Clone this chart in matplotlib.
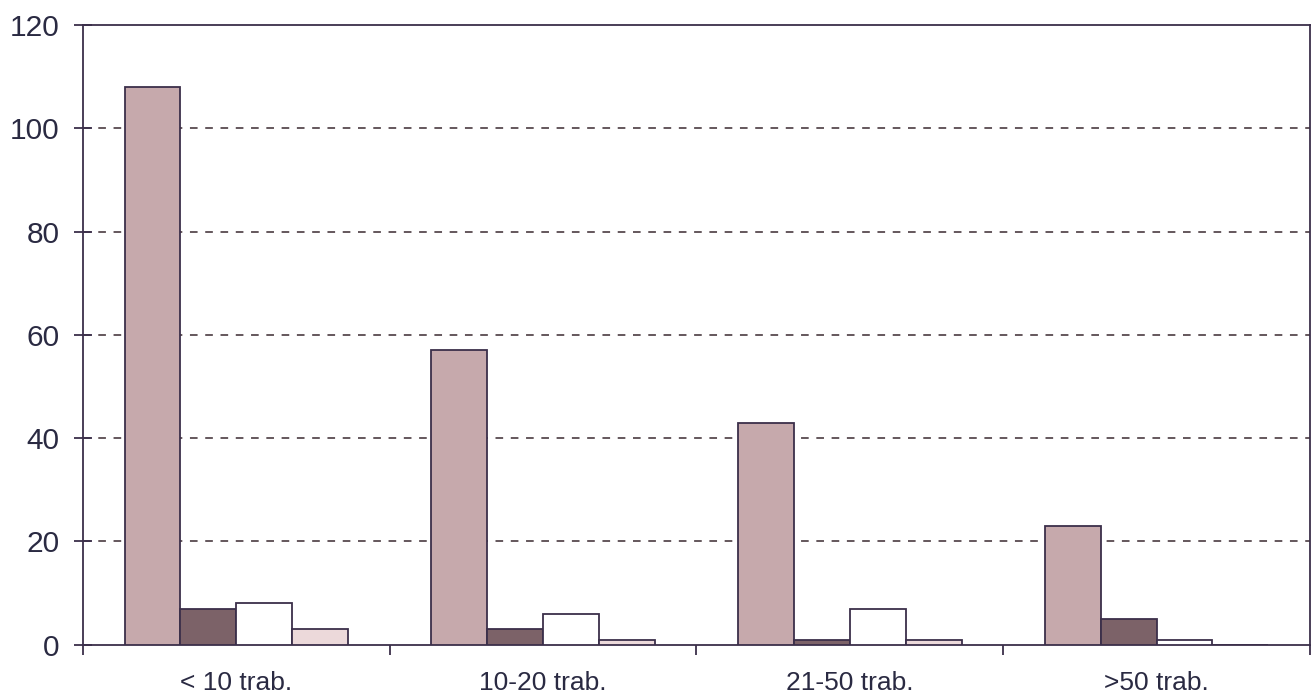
import matplotlib.pyplot as plt
import numpy as np

# Data ===========================================
categories = ['< 10 trab.', '10-20 trab.', '21-50 trab.', '>50 trab.']
serie_a = [108, 57, 43, 23]
serie_b = [7, 3, 1, 5]
serie_c = [8, 6, 7, 1]
serie_d = [3, 1, 1, 0]
yticks = [0, 20, 40, 60, 80, 100, 120]

colors = ['#c6a9ac', '#7c6268', '#ffffff', '#ecd9da']
edge = '#3b2f4a'
txt = '#2a2a42'

plt.rcParams['font.family'] = ['Liberation Sans', 'DejaVu Sans']

fig = plt.figure(figsize=(13.14, 7), dpi=100)
ax = fig.add_axes([0.063, 0.079, 0.934, 0.885])

x = np.arange(len(categories))
w = 0.182
for i, (vals, col) in enumerate(zip([serie_a, serie_b, serie_c, serie_d], colors)):
    ax.bar(x + (i - 1.5) * w, vals, width=w, color=col, edgecolor=edge,
           linewidth=1.3, zorder=3)

ax.set_xlim(-0.5, len(categories) - 0.5)
ax.set_ylim(0, 120)
ax.set_yticks(yticks)
ax.set_yticklabels([str(t) for t in yticks], fontsize=21.5, color=txt)

# category labels between boundary ticks
ax.set_xticks(np.arange(len(categories) + 1) - 0.5)
ax.set_xticklabels([])
ax.set_xticks(x, minor=True)
ax.set_xticklabels(categories, minor=True, fontsize=19, color=txt)
ax.tick_params(axis='x', which='minor', length=0, pad=19)
ax.tick_params(axis='x', which='major', length=7, width=1.3, color=edge, direction='out')
ax.tick_params(axis='y', length=13, width=1.3, color=edge, direction='inout', pad=10)

for t in yticks[1:-1]:
    ax.axhline(t, color='#3a2a30', linestyle=(0, (5, 5)), linewidth=1.1, zorder=1)

for side in ['bottom', 'top', 'left', 'right']:
    ax.spines[side].set_color(edge)
    ax.spines[side].set_linewidth(1.3)

plt.savefig('out.png', dpi=100, facecolor='white')
